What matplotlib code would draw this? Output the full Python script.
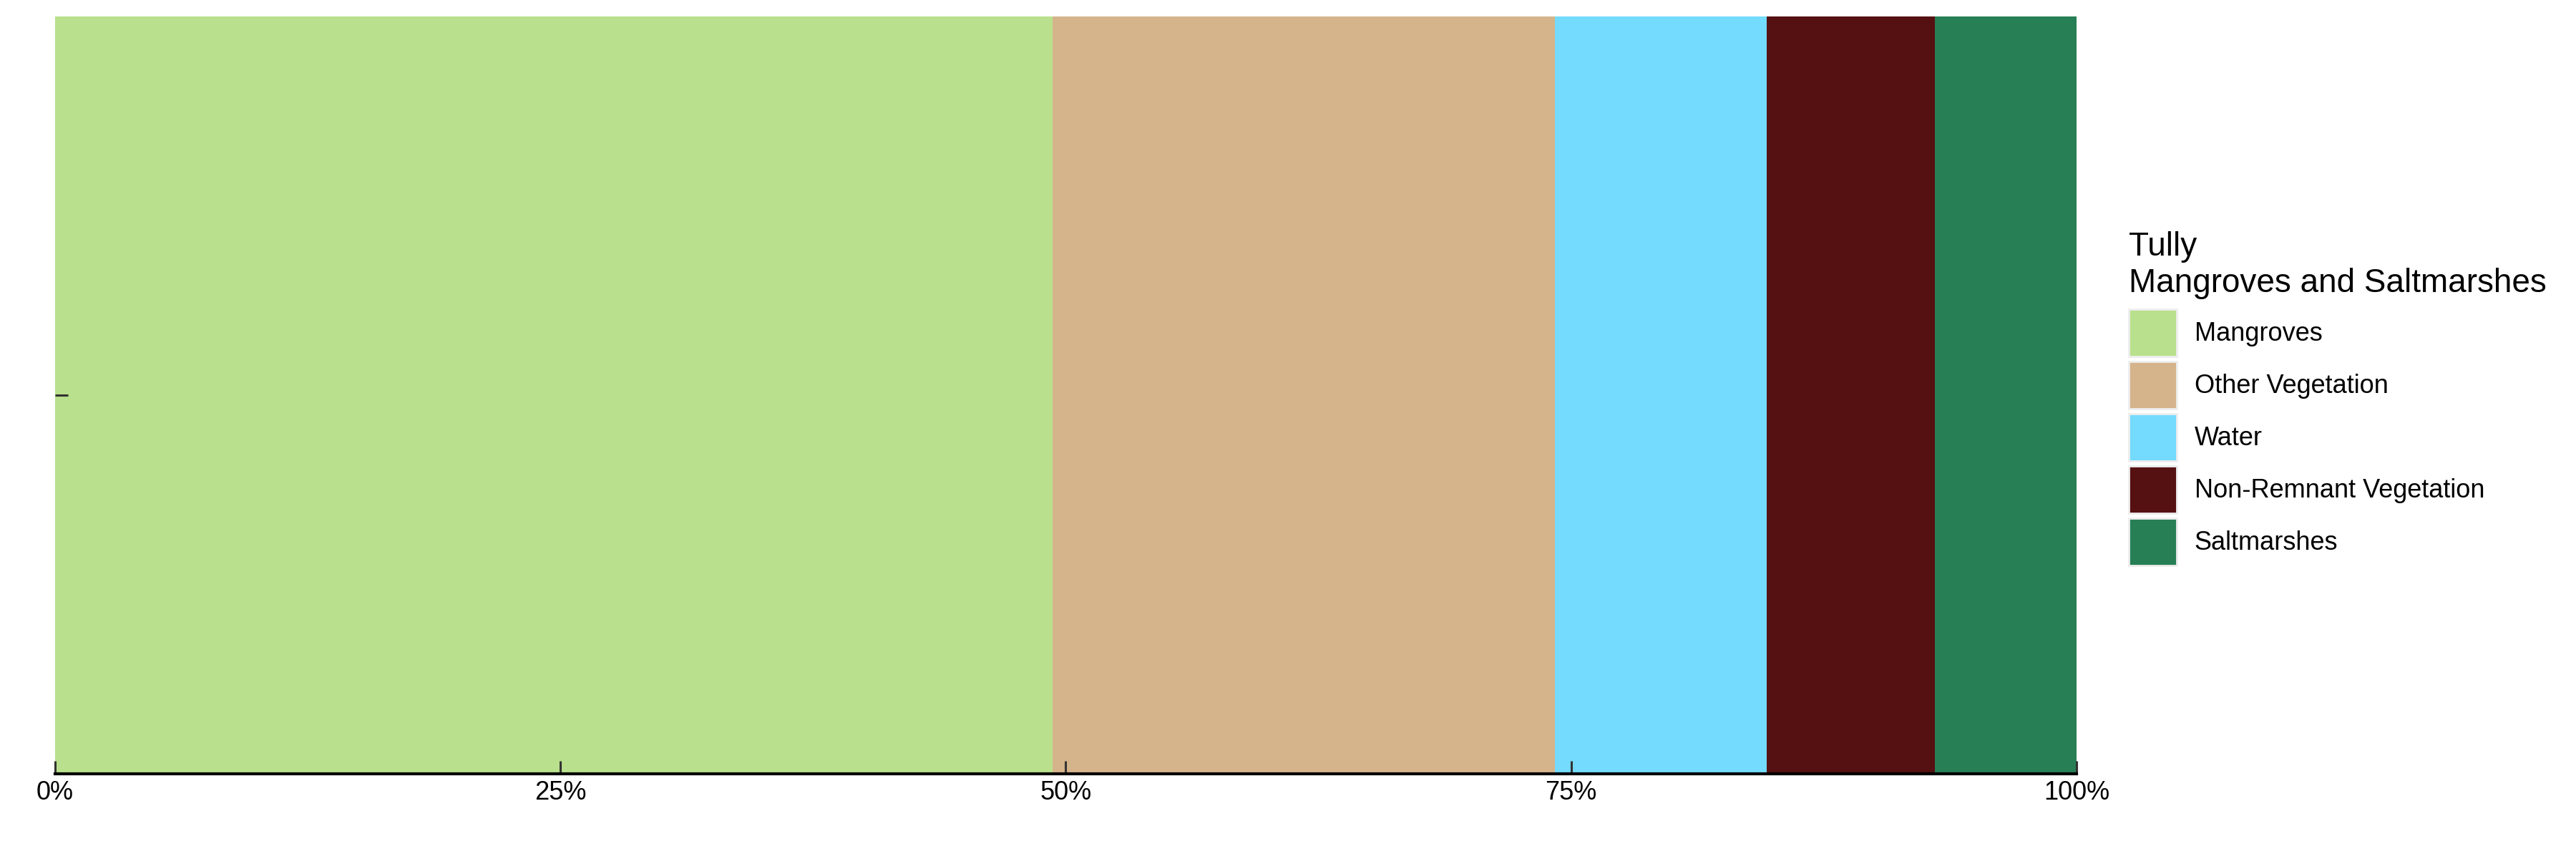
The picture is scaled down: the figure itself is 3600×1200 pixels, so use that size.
import matplotlib
matplotlib.use('Agg')
import matplotlib.pyplot as plt
from matplotlib.ticker import PercentFormatter

plt.rcParams['font.family'] = ['Liberation Sans', 'DejaVu Sans']

# share of total area, %
classes = ['Mangroves', 'Other Vegetation', 'Water', 'Non-Remnant Vegetation', 'Saltmarshes']
shares = [49.35, 24.86, 10.46, 8.33, 7.00]
colours = ['#b9e08c', '#d5b48c', '#74dbff', '#551012', '#277f55']
xticks = [0, 25, 50, 75, 100]

fig = plt.figure(figsize=(18, 6), dpi=200)
ax = fig.add_axes([0.0214, 0.099, 0.7847, 0.882])

left = 0
for name, val, col in zip(classes, shares, colours):
    ax.barh(0, val, left=left, height=1, color=col, linewidth=0, label=name)
    left += val

ax.set_xlim(0, 100)
ax.set_ylim(-0.5, 0.5)
ax.set_xticks(xticks)
ax.xaxis.set_major_formatter(PercentFormatter(decimals=0))
ax.set_yticks([0])
ax.set_yticklabels([''])

for s in ['top', 'right', 'left']:
    ax.spines[s].set_visible(False)
ax.spines['bottom'].set_linewidth(1.5)
ax.spines['bottom'].set_color('black')
ax.tick_params(axis='both', direction='in', length=6.5, width=1.1, color='#333333',
               labelsize=13, pad=3)

leg = ax.legend(title='Tully\nMangroves and Saltmarshes', loc='upper left',
                bbox_to_anchor=(0.8215, 0.7458), bbox_transform=fig.transFigure,
                frameon=False, borderpad=0, fontsize=13, title_fontsize=16.5,
                handlelength=1.83, handleheight=2.44, labelspacing=0.19,
                handletextpad=0.7)
leg._legend_box.align = 'left'
leg._legend_box.sep = 5  # a bit more room under the title
for p in leg.get_patches():
    p.set_edgecolor('#eeeeee')
    p.set_linewidth(1)

fig.savefig('out.png', dpi=200)
